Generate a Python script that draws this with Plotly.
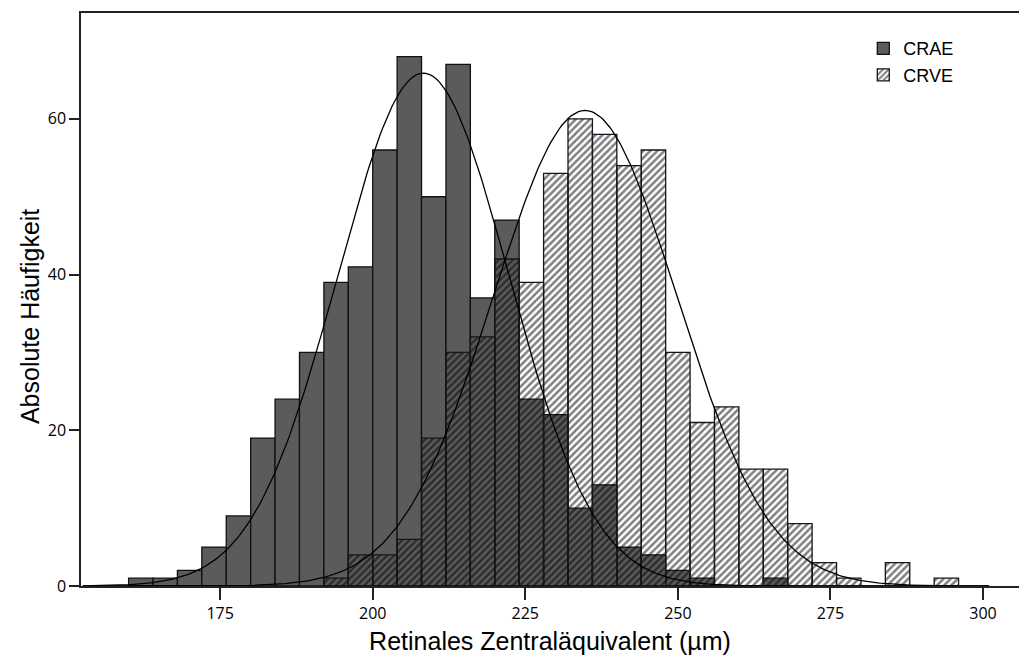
import numpy as np
import plotly.graph_objects as go

# ---- data ----
BIN_WIDTH = 4
crae_bin_starts = list(range(160, 268, 4))
crae_counts = [1, 1, 2, 5, 9, 19, 24, 30, 39, 41, 56, 68, 50, 67, 37, 47,
               24, 22, 10, 13, 5, 4, 2, 1, 0, 0, 1]
crve_bin_starts = list(range(192, 296, 4))
crve_counts = [1, 4, 4, 6, 19, 30, 32, 42, 39, 53, 60, 58, 54, 56, 30, 21,
               23, 15, 15, 8, 3, 1, 0, 3, 0, 1]
crae_mean, crae_sd = 208.3, 14.0
crve_mean, crve_sd = 234.8, 15.1
x_ticks = [175, 200, 225, 250, 275, 300]
y_ticks = [0, 20, 40, 60]

def centers(starts):
    return [s + BIN_WIDTH / 2 for s in starts]

def normal_curve(mean, sd, n, xs):
    return n * BIN_WIDTH / (sd * np.sqrt(2 * np.pi)) * np.exp(-0.5 * ((xs - mean) / sd) ** 2)

fig = go.Figure()

fig.add_trace(go.Bar(
    x=centers(crae_bin_starts), y=crae_counts, width=BIN_WIDTH,
    name="CRAE",
    marker=dict(color="#5b5b5b", line=dict(color="#111111", width=1.3)),
))
fig.add_trace(go.Bar(
    x=centers(crve_bin_starts), y=crve_counts, width=BIN_WIDTH,
    name="CRVE",
    marker=dict(color="rgba(0,0,0,0)",
                line=dict(color="#15151f", width=1.3),
                pattern=dict(shape="/", fgcolor="#000000", bgcolor="rgba(0,0,0,0)",
                             size=5, solidity=0.5)),
))

xs = np.linspace(152.5, 301, 400)
fig.add_trace(go.Scatter(x=xs, y=normal_curve(crae_mean, crae_sd, sum(crae_counts), xs),
                         mode="lines", line=dict(color="black", width=1.3),
                         showlegend=False, hoverinfo="skip"))
fig.add_trace(go.Scatter(x=xs, y=normal_curve(crve_mean, crve_sd, sum(crve_counts), xs),
                         mode="lines", line=dict(color="black", width=1.3),
                         showlegend=False, hoverinfo="skip"))

fig.update_layout(
    width=1019, height=657,
    margin=dict(l=81, r=0, t=13, b=71),
    barmode="overlay",
    plot_bgcolor="white", paper_bgcolor="white",
    font=dict(family="Liberation Sans, Arial, sans-serif", color="black"),
    legend=dict(x=0.834, y=0.97, xanchor="left", yanchor="top",
                bgcolor="rgba(0,0,0,0)", font=dict(size=18), tracegroupgap=0),
    xaxis=dict(range=[152.2, 305.9], tickvals=x_ticks, ticks="outside", ticklen=12,
               tickwidth=1.5, tickcolor="#222", showline=True, linecolor="#222",
               linewidth=1.5, mirror=True, showgrid=False, zeroline=False,
               tickfont=dict(family="Open Sans, sans-serif", size=16),
               title=dict(text="Retinales Zentraläquivalent (µm)", font=dict(size=25),
                          standoff=10)),
    yaxis=dict(range=[0, 73.6], tickvals=y_ticks, ticks="outside", ticklen=10,
               tickwidth=1.5, tickcolor="#222", showline=True, linecolor="#222",
               linewidth=1.5, showgrid=False, zeroline=False,
               tickfont=dict(family="Open Sans, sans-serif", size=16)),
    annotations=[dict(text="Absolute Häufigkeit", textangle=-90, showarrow=False,
                      xref="paper", yref="paper", x=-0.0544, y=0.471,
                      xanchor="center", yanchor="middle",
                      font=dict(size=25, family="Liberation Sans, Arial, sans-serif"))],
)

fig.write_html("out.html")
